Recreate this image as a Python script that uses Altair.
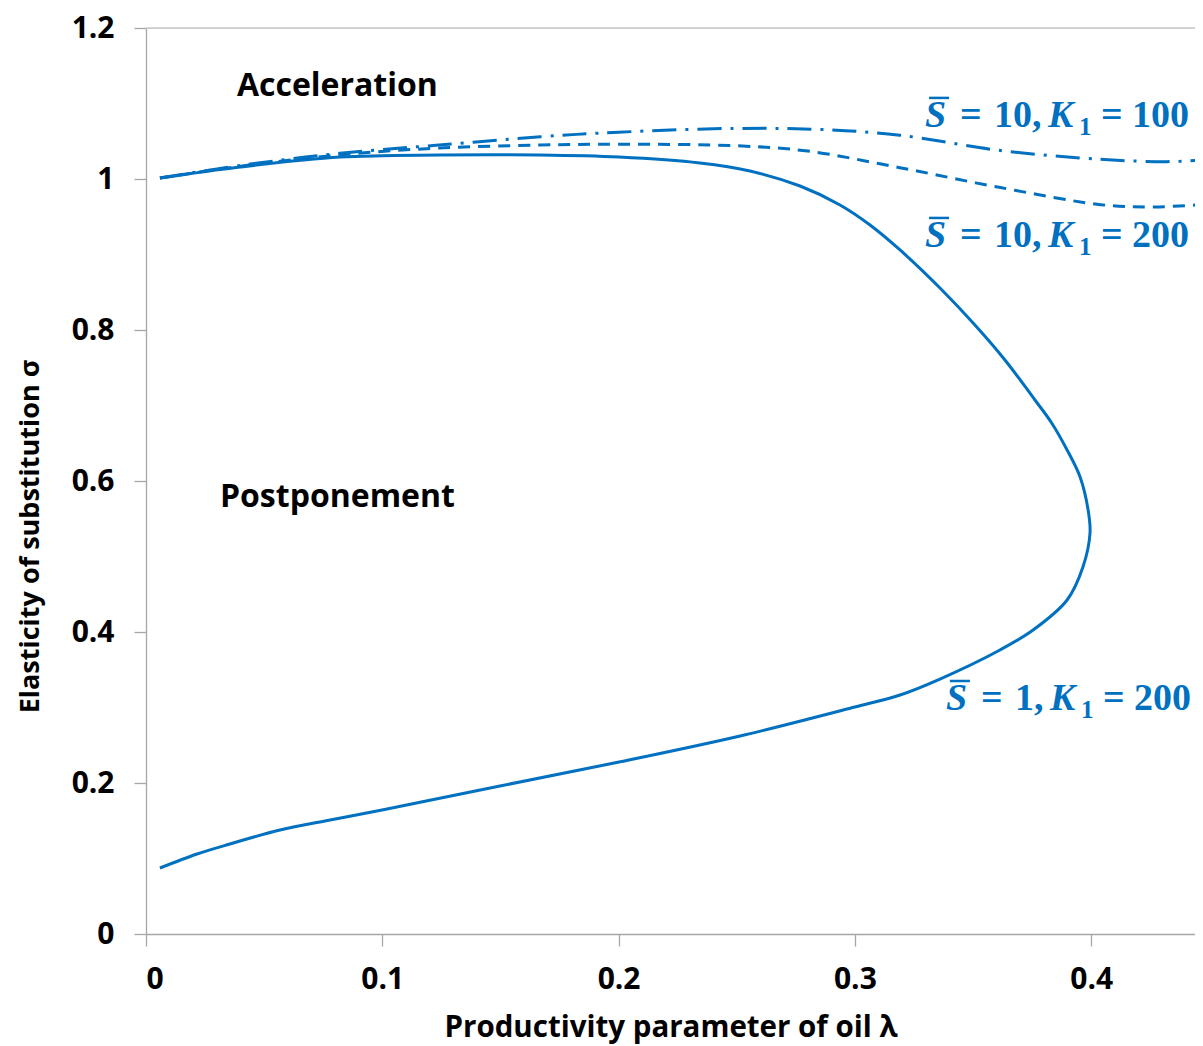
import altair as alt
import pandas as pd

BLUE = "#0070C0"
AXIS_GRAY = "#A6A6A6"

# S = 1, K1 = 200 (solid) from bottom to top
solid_x = [0.0059, 0.0216, 0.0355, 0.0567, 0.0779, 0.0999, 0.1498, 0.2002, 0.2514, 0.3000,
           0.3191, 0.3360, 0.3614, 0.3754, 0.3898, 0.3965, 0.3995, 0.3987, 0.3953, 0.3898,
           0.3830, 0.3762, 0.3635, 0.3508, 0.3360, 0.3191, 0.3064, 0.2937, 0.2768, 0.2556,
           0.2344, 0.2002, 0.1667, 0.1244, 0.0821, 0.0398, 0.0059]
solid_y = [0.0874, 0.1060, 0.1192, 0.1377, 0.1510, 0.1642, 0.1960, 0.2278, 0.2623, 0.3007,
           0.3166, 0.3377, 0.3762, 0.4026, 0.4424, 0.4861, 0.5311, 0.5616, 0.6053, 0.6411,
           0.6781, 0.7073, 0.7603, 0.8066, 0.8556, 0.9060, 0.9391, 0.9656, 0.9907, 1.0106,
           1.0212, 1.0291, 1.0318, 1.0318, 1.0291, 1.0159, 1.0013]

# S = 10, K1 = 200 (dashed)
dash_x = [0.0059, 0.040, 0.082, 0.124, 0.167, 0.200, 0.250, 0.280, 0.319, 0.361, 0.404, 0.425, 0.446, 0.46]
dash_y = [1.0013, 1.017, 1.032, 1.041, 1.045, 1.046, 1.044, 1.037, 1.015, 0.989, 0.966, 0.963, 0.966, 0.970]

# S = 10, K1 = 100 (dash-dot)
dd_x = [0.0059, 0.040, 0.082, 0.124, 0.167, 0.200, 0.250, 0.290, 0.319, 0.361, 0.404, 0.432, 0.447, 0.46]
dd_y = [1.0013, 1.018, 1.034, 1.045, 1.056, 1.062, 1.067, 1.065, 1.058, 1.038, 1.026, 1.023, 1.025, 1.027]

x_ticks = [0, 0.1, 0.2, 0.3, 0.4]
y_ticks = [0, 0.2, 0.4, 0.6, 0.8, 1.0, 1.2]

region_text = ["Acceleration", "Postponement"]
region_x = [0.081, 0.081]
region_y = [1.110, 0.5656]

# curve labels: anchor (left of S, baseline), S-bar value, K1 value
lab_x = [0.3297, 0.3297, 0.3385]
lab_y = [1.069, 0.910, 0.2967]
lab_s = ["10", "10", "1"]
lab_k = ["100", "200", "200"]

PLOT_W = 1049
PLOT_H = 906
X_DOMAIN = [0, PLOT_W / 2363.0]
Y_DOMAIN = [0, 1.2]

xscale = alt.Scale(domain=X_DOMAIN, nice=False, zero=False)
yscale = alt.Scale(domain=Y_DOMAIN, nice=False)

FONT = "Open Sans"


def line_df(xs, ys):
    return pd.DataFrame({"x": xs, "y": ys, "o": list(range(len(xs)))})


xenc = alt.X("x:Q", scale=xscale, axis=alt.Axis(
    values=x_ticks, format="~g", title="Productivity parameter of oil λ",
    grid=False, domainColor=AXIS_GRAY, tickColor=AXIS_GRAY, tickSize=12, domainWidth=1.3, tickWidth=1.3,
    labelFont=FONT, labelFontWeight="bold", labelFontSize=30, labelColor="black", labelPadding=18,
    titleFont=FONT, titleFontWeight="bold", titleFontSize=29.5, titleColor="black",
    titleY=102, titleBaseline="alphabetic"))
yenc = alt.Y("y:Q", scale=yscale, axis=alt.Axis(
    values=y_ticks, format="~g", title="Elasticity of substitution σ",
    grid=False, domainColor=AXIS_GRAY, tickColor=AXIS_GRAY, tickSize=12, domainWidth=1.3, tickWidth=1.3,
    labelFont=FONT, labelFontWeight="bold", labelFontSize=30, labelColor="black", labelPadding=20,
    titleFont=FONT, titleFontWeight="bold", titleFontSize=27, titleColor="black",
    titleX=-116, titleY=508, titleAngle=270, titleAlign="center", titleBaseline="middle"))

solid = alt.Chart(line_df(solid_x, solid_y)).mark_line(
    color=BLUE, strokeWidth=3, clip=True, interpolate="catmull-rom").encode(x=xenc, y=yenc, order="o:Q")
dashed = alt.Chart(line_df(dash_x, dash_y)).mark_line(
    color=BLUE, strokeWidth=3, strokeDash=[12, 8], clip=True, interpolate="catmull-rom").encode(
    x="x:Q", y="y:Q", order="o:Q")
dashdot = alt.Chart(line_df(dd_x, dd_y)).mark_line(
    color=BLUE, strokeWidth=3, strokeDash=[24, 9, 3, 9], clip=True, interpolate="catmull-rom").encode(
    x="x:Q", y="y:Q", order="o:Q")

top_line = alt.Chart(pd.DataFrame({"y": [Y_DOMAIN[1]]})).mark_rule(
    color="#C8C8C8", strokeWidth=1.3).encode(y="y:Q", x=alt.value(0), x2=alt.value(PLOT_W))

regions = alt.Chart(pd.DataFrame({"x": region_x, "y": region_y, "t": region_text})).mark_text(
    font=FONT, fontWeight="bold", fontSize=32, color="black", align="center", baseline="alphabetic"
).encode(x="x:Q", y="y:Q", text="t:N")


def curve_label(x0, y0, s_val, k_val):
    base = pd.DataFrame({"x": [x0], "y": [y0]})

    def seg(text, dx, italic=False, size=38, dy=0):
        return alt.Chart(base).mark_text(
            text=text, dx=dx, dy=dy, align="left", baseline="alphabetic",
            font="Liberation Serif", fontWeight="bold",
            fontStyle="italic" if italic else "normal",
            fontSize=size, color=BLUE).encode(x="x:Q", y="y:Q")

    n1 = 69
    comma = n1 + 19 * len(s_val)
    k = comma + 16
    sub = k + 31
    eq2 = sub + 22
    n2 = eq2 + 31
    return [
        seg("S", 0, italic=True),
        alt.Chart(base).mark_rule(color=BLUE, strokeWidth=2.5, xOffset=4, x2Offset=24,
                                  yOffset=-29, y2Offset=-29).encode(
            x="x:Q", x2="x:Q", y="y:Q"),
        seg("=", 35),
        seg(s_val, n1),
        seg(",", comma),
        seg("K", k, italic=True),
        seg("1", sub, size=25, dy=8),
        seg("=", eq2),
        seg(k_val, n2),
    ]


label_layers = []
for lx, ly, ls, lk in zip(lab_x, lab_y, lab_s, lab_k):
    label_layers += curve_label(lx, ly, ls, lk)

chart = alt.layer(solid, dashed, dashdot, top_line, regions, *label_layers).properties(
    width=PLOT_W, height=PLOT_H,
    autosize=alt.AutoSizeParams(type="none"),
    padding={"left": 138, "top": 20, "right": 0, "bottom": 112},
).configure_view(stroke=None).configure(background="white")

chart.save("out.html", embed_options={"renderer": "svg", "actions": False})
